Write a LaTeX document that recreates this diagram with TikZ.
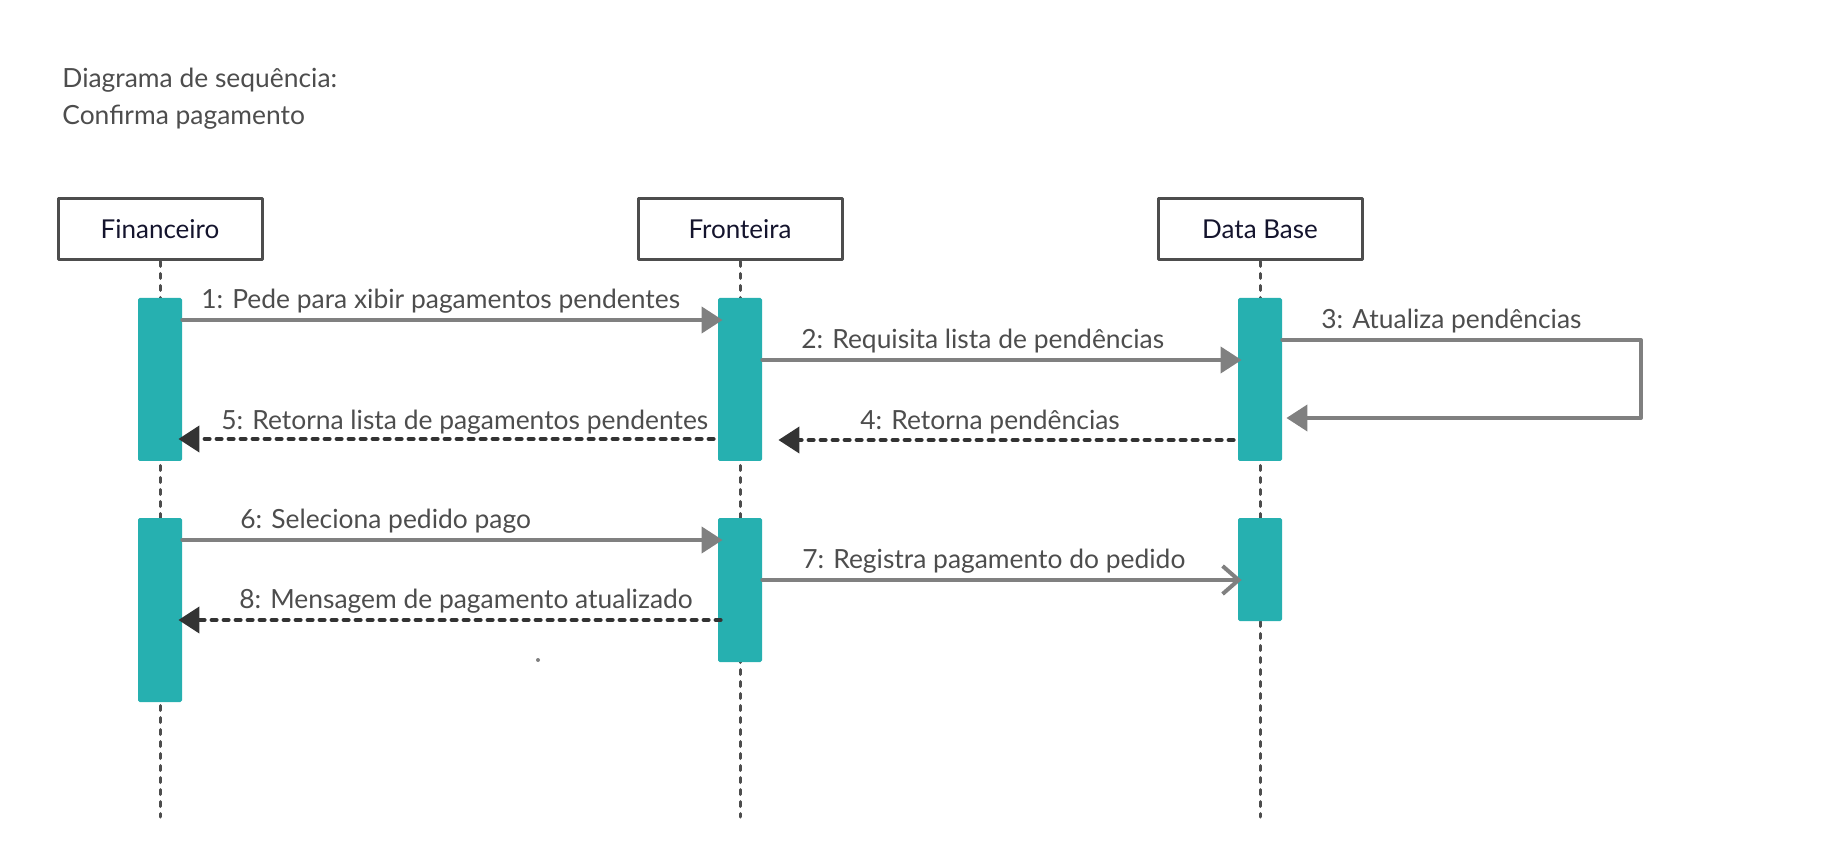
\documentclass[tikz,border=0pt]{standalone}
\usepackage{fontspec}
\setmainfont{Lato}
\usetikzlibrary{arrows.meta,positioning}
\definecolor{barra}{RGB}{38,176,176}
\definecolor{texto}{RGB}{77,77,77}
\definecolor{borda}{RGB}{77,77,77}
\definecolor{seta}{RGB}{128,128,128}
\definecolor{retorno}{RGB}{51,51,51}
\definecolor{nome}{RGB}{20,20,45}
\begin{document}
\begin{tikzpicture}[x=0.5pt,y=-0.5pt,line join=round,line cap=round,font=\fontsize{13.2}{15}\selectfont,
objeto/.style={draw=borda,line width=1.5pt,minimum width=102pt,minimum height=30.5pt,inner sep=0pt,text=nome,font=\fontsize{13}{15}\selectfont},
ativo/.style={fill=barra,minimum width=22pt,inner sep=0pt,rounded corners=0.8pt},
vida/.style={draw=borda,line width=1.5pt,dash pattern=on 2.5pt off 3.5pt},
msg/.style={draw=seta,line width=2pt,-{Triangle[length=10.5pt,width=13pt]}},
msgaberta/.style={draw=seta,line width=2pt,-{Straight Barb[length=8pt,width=14pt]}},
ret/.style={draw=retorno,line width=2pt,dash pattern=on 2.5pt off 3.5pt,-{Triangle[length=10.5pt,width=13pt]}},
rotulo/.style={text=texto,anchor=base west,inner sep=0pt}]
\useasboundingbox (0,0) rectangle (1840,860);
\node[rotulo] (titulo) at (62,88) {Diagrama de sequência:};
\node[rotulo] (subtitulo) at (62,125) {Confirma pagamento};
\foreach \n/\x/\t in {fin/160/Financeiro,fro/740/Fronteira,db/1260/Data Base}{
\node[objeto] (\n) at (\x,229.5) {\t};
\coordinate (\n fim) at (\x,817);
\draw[vida] (\n) -- (\n fim);
}
\node[ativo,minimum height=81.5pt] (fin1) at (160,379.5) {};
\node[ativo,minimum height=81.5pt] (fro1) at (740,379.5) {};
\node[ativo,minimum height=81.5pt] (db1) at (1260,379.5) {};
\node[ativo,minimum height=92pt] (fin2) at (160,610) {};
\node[ativo,minimum height=72pt] (fro2) at (740,590) {};
\node[ativo,minimum height=51.5pt] (db2) at (1260,569.5) {};
\draw[msg] (fin1.east |- 0,320) -- ([xshift=2.5pt]fro1.west |- 0,320);
\node[rotulo] (m1) at (201,309) {1: Pede para xibir pagamentos pendentes};
\draw[msg] (fro1.east |- 0,360) -- ([xshift=2pt]db1.west |- 0,360);
\node[rotulo] (m2) at (801,349) {2: Requisita lista de pendências};
\draw[msg] (db1.east |- 0,340) -- (1641,340) -- (1641,418) -- ([xshift=2pt]db1.east |- 0,418);
\node[rotulo] (m3) at (1321,329) {3: Atualiza pendências};
\draw[ret] ([xshift=-2pt]db1.west |- 0,440) -- ([xshift=8pt]fro1.east |- 0,440);
\node[rotulo] (m4) at (860,430) {4: Retorna pendências};
\draw[ret] ([xshift=-2pt]fro1.west |- 0,439) -- ([xshift=-2pt]fin1.east |- 0,439);
\node[rotulo] (m5) at (221,430) {5: Retorna lista de pagamentos pendentes};
\draw[msg] (fin2.east |- 0,540) -- ([xshift=2.5pt]fro2.west |- 0,540);
\node[rotulo] (m6) at (240,529) {6: Seleciona pedido pago};
\draw[msgaberta] (fro2.east |- 0,580) -- ([xshift=2pt]db2.west |- 0,580);
\node[rotulo] (m7) at (802,568) {7: Registra pagamento do pedido};
\draw[ret] ([xshift=1.5pt]fro2.west |- 0,620) -- ([xshift=-2pt]fin2.east |- 0,620);
\node[rotulo] (m8) at (239,608) {8: Mensagem de pagamento atualizado};
\fill[seta] (538,660) circle (1pt);
\end{tikzpicture}
\end{document}
